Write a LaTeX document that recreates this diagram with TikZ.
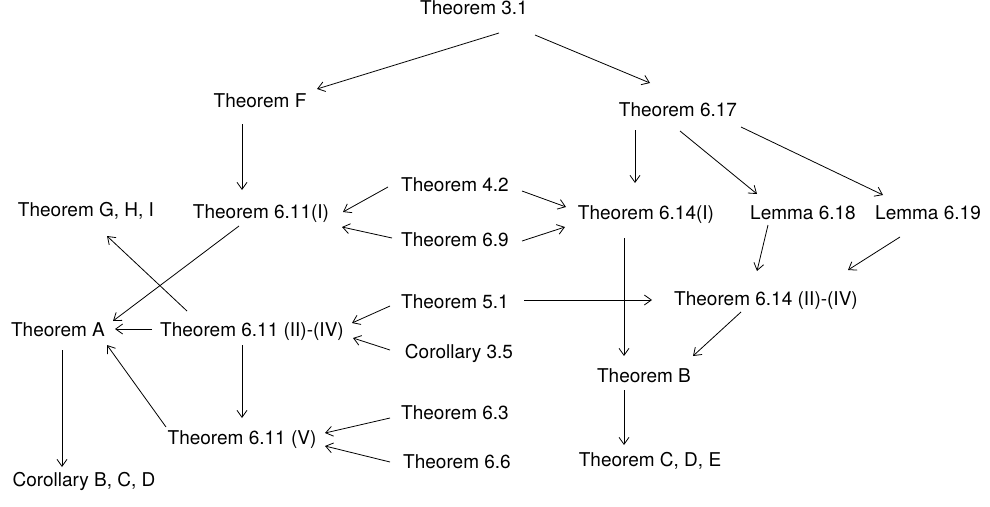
\documentclass[tikz,border=0pt]{standalone}
\usepackage{fontspec}
\setmainfont{TeX Gyre Heros}
\usetikzlibrary{arrows.meta}
\begin{document}
\begin{tikzpicture}
[x=1pt,y=-1pt,
 thmnode/.style={inner sep=0pt,text height=13.6pt,text depth=0pt,
   font=\fontsize{19}{23}\selectfont},
 implies/.style={-{Straight Barb[length=7pt,width=10pt]},line width=0.8pt}]
\useasboundingbox (0,0) rectangle (990,506);
%% statements
\foreach \nodename/\x/\y/\statement in {t31/474/8/{Theorem 3.1},
  tF/260/101/{Theorem F}, t617/678/110/{Theorem 6.17},
  tGHI/86/210/{Theorem G, H, I}, t611i/261/212/{Theorem 6.11(I)},
  t42/455/185/{Theorem 4.2}, t69/455/240/{Theorem 6.9},
  t614i/646/213/{Theorem 6.14(I)}, l618/803/213/{Lemma 6.18},
  l619/928/213/{Lemma 6.19}, tA/58/330/{Theorem A},
  t611iv/252/330/{Theorem 6.11 (II)-(IV)}, t51/455/302/{Theorem 5.1},
  c35/459/352/{Corollary 3.5}, t63/455/413/{Theorem 6.3},
  t66/457/462/{Theorem 6.6}, t611v/242/438/{Theorem 6.11 (V)},
  cBCD/84/480/{Corollary B, C, D}, t614iv/766/299/{Theorem 6.14 (II)-(IV)},
  tB/644/376/{Theorem B}, tCDE/650/460/{Theorem C, D, E}} {
  \node (\nodename) at (\x,\y) [thmnode] {\statement};
}
%% implications
\foreach \startnode/\sx/\sy/\endnode/\ex/\ey in {t31/25/25/tF/57/-12,
  t31/61/27/t617/-28/-27, tF/-18/23/t611i/-19/-22,
  t42/-67/2/t611i/82/0, t69/-63/-2/t611i/81/15,
  t42/67/6/t614i/-80/-6, t69/67/1/t614i/-81/14,
  t617/-43/20/t614i/-11/-30, t617/2/21/l618/-46/-19,
  t617/63/17/l619/-45/-18, t611i/-22/14/tA/55/-9,
  t611iv/-65/-19/tGHI/21/26, t611iv/-100/-1/tA/57/-1,
  t611v/-76/-11/tA/49/15, tA/4/20/cBCD/-22/-13,
  t611iv/-10/15/t611v/0/-20, t51/-65/4/t611iv/100/-7,
  c35/-69/-2/t611iv/101/8, t63/-65/5/t611v/83/-5,
  t66/-67/0/t611v/83/8, t614i/-22/25/tB/-20/-20,
  t51/69/-2/t614iv/-114/1, t614iv/-25/13/tB/49/-20,
  l618/-35/12/t614iv/-9/-28, l619/-28/24/t614iv/82/-29,
  tB/-20/14/tCDE/-26/-15} {
  \draw[implies] ([shift={(\sx,\sy)}]\startnode.center)
    -- ([shift={(\ex,\ey)}]\endnode.center);
}
\end{tikzpicture}
\end{document}
